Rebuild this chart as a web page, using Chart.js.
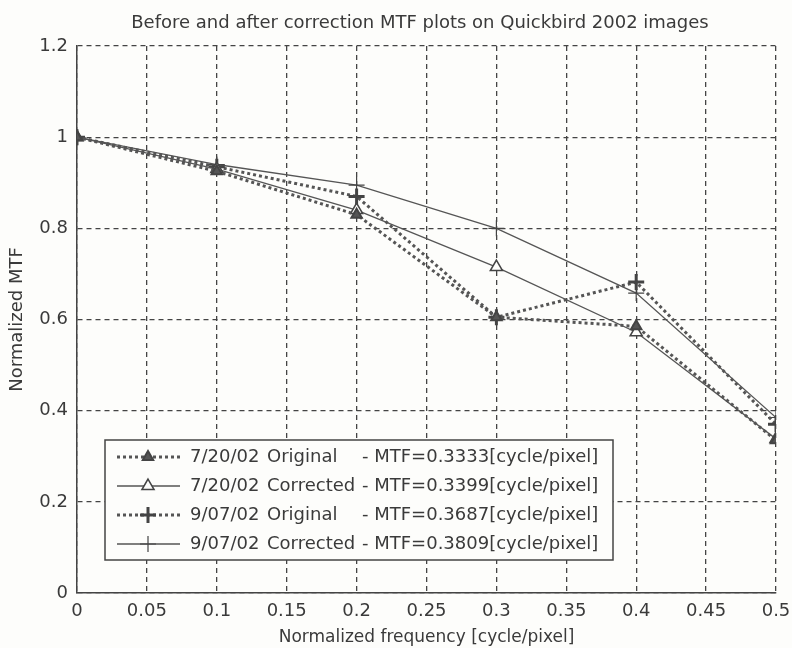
<!DOCTYPE html>
<html>
<head>
<meta charset="utf-8">
<script src="https://cdn.jsdelivr.net/npm/chart.js@4.4.1/dist/chart.umd.min.js"></script>
<style>
  html, body { margin: 0; padding: 0; background: #fdfdfb; }
  #box { width: 792px; height: 648px; }
</style>
</head>
<body>
<div id="box"><canvas id="mtfChart" width="792" height="648"></canvas></div>
<script>
// data
const freq = [0, 0.1, 0.2, 0.3, 0.4, 0.5];
const orig0720 = [1, 0.925, 0.83, 0.605, 0.585, 0.335];
const corr0720 = [1, 0.93, 0.84, 0.715, 0.572, 0.338];
const orig0907 = [1, 0.935, 0.87, 0.605, 0.682, 0.37];
const corr0907 = [1, 0.94, 0.895, 0.80, 0.658, 0.385];

const dates = ['7/20/02', '7/20/02', '9/07/02', '9/07/02'];
const kinds = ['Original', 'Corrected', 'Original', 'Corrected'];
const mtfValues = ['0.3333', '0.3399', '0.3687', '0.3809'];

const xTicks = [0, 0.05, 0.1, 0.15, 0.2, 0.25, 0.3, 0.35, 0.4, 0.45, 0.5];
const yTicks = [0, 0.2, 0.4, 0.6, 0.8, 1, 1.2];

const titleText = 'Before and after correction MTF plots on Quickbird 2002 images';
const ink = '#3a3a3a';
const lineInk = '#555';
const fontFam = '"DejaVu Sans", Verdana, sans-serif';

function pts(arr) {
  return freq.map(function (f, i) { return { x: f, y: arr[i] }; });
}

const dotted = { borderDash: [3, 3], borderWidth: 3 };
const solid = { borderDash: [], borderWidth: 1.3 };

const datasets = [
  Object.assign({ data: pts(orig0720), pointStyle: 'triangle', pointRadius: 6,
    pointBackgroundColor: '#555', pointBorderWidth: 2 }, dotted),
  Object.assign({ data: pts(corr0720), pointStyle: 'triangle', pointRadius: 7,
    pointBackgroundColor: '#fdfdfb', pointBorderWidth: 1.5 }, solid),
  Object.assign({ data: pts(orig0907), pointStyle: 'cross', pointRadius: 8,
    pointBackgroundColor: '#555', pointBorderWidth: 3 }, dotted),
  Object.assign({ data: pts(corr0907), pointStyle: 'cross', pointRadius: 8,
    pointBackgroundColor: '#555', pointBorderWidth: 1.2 }, solid)
];
datasets.forEach(function (d, i) {
  d.label = dates[i] + ' ' + kinds[i] + ' - MTF=' + mtfValues[i] + '[cycle/pixel]';
  d.borderColor = lineInk;
  d.pointBorderColor = '#444';
  d.fill = false;
  d.tension = 0;
});

// title over the plot box + legend box inside the plot
const extras = {
  id: 'extras',
  afterDraw: function (chart) {
    const ctx = chart.ctx;
    ctx.save();
    ctx.fillStyle = ink;
    ctx.font = '18px ' + fontFam;
    ctx.textAlign = 'center';
    ctx.textBaseline = 'alphabetic';
    ctx.fillText(titleText, 420, 28);

    // legend
    const lx = 105, ly = 440, lw = 508, lh = 120;
    ctx.fillStyle = '#fdfdfb';
    ctx.fillRect(lx, ly, lw, lh);
    ctx.strokeStyle = '#444';
    ctx.lineWidth = 1.5;
    ctx.setLineDash([]);
    ctx.strokeRect(lx, ly, lw, lh);
    ctx.font = '18px ' + fontFam;
    ctx.textAlign = 'left';
    ctx.textBaseline = 'middle';
    chart.data.datasets.forEach(function (d, i) {
      const y = ly + 17 + i * 29;
      ctx.save();
      ctx.strokeStyle = d.borderColor;
      ctx.lineWidth = d.borderWidth;
      ctx.setLineDash(d.borderDash);
      ctx.beginPath();
      ctx.moveTo(lx + 12, y);
      ctx.lineTo(lx + 75, y);
      ctx.stroke();
      ctx.setLineDash([]);
      ctx.fillStyle = d.pointBackgroundColor;
      ctx.strokeStyle = d.pointBorderColor;
      ctx.lineWidth = d.pointBorderWidth;
      Chart.helpers.drawPoint(ctx, { pointStyle: d.pointStyle, rotation: 0,
        radius: d.pointRadius, borderWidth: d.pointBorderWidth }, lx + 43, y);
      ctx.restore();
      ctx.fillStyle = ink;
      ctx.fillText(dates[i], lx + 85, y);
      ctx.fillText(kinds[i], lx + 162, y);
      ctx.fillText('- MTF=' + mtfValues[i] + '[cycle/pixel]', lx + 257, y);
    });
    ctx.restore();
  }
};

const ctx = document.getElementById('mtfChart');

new Chart(ctx, {
  type: 'line',
  data: { datasets: datasets },
  options: {
    responsive: false,
    animation: false,
    layout: { padding: { top: 46, right: 16, left: 0, bottom: 0 } },
    plugins: {
      legend: { display: false },
      title: { display: false },
      tooltip: { enabled: false }
    },
    scales: {
      x: {
        type: 'linear',
        min: 0, max: 0.5,
        afterBuildTicks: function (s) { s.ticks = xTicks.map(function (v) { return { value: v }; }); },
        afterFit: function (s) { s.height = 55; s.paddingLeft = 0; s.paddingRight = 0; },
        grid: { color: '#444', lineWidth: 1.3, drawTicks: false },
        border: { display: true, color: '#444', width: 1.5, dash: [5, 4] },
        ticks: { color: ink, padding: 8, maxRotation: 0, font: { family: fontFam, size: 18 },
          callback: function (v) { return String(v); } },
        title: { display: true, text: 'Normalized frequency [cycle/pixel]', color: ink,
          font: { family: fontFam, size: 17 }, padding: { top: 1, bottom: 0 } }
      },
      y: {
        min: 0, max: 1.2,
        afterBuildTicks: function (s) { s.ticks = yTicks.map(function (v) { return { value: v }; }); },
        afterFit: function (s) { s.width = 77; s.paddingTop = 0; s.paddingBottom = 0; },
        grid: { color: '#444', lineWidth: 1.3, drawTicks: false },
        border: { display: true, color: '#444', width: 1.5, dash: [5, 4] },
        ticks: { color: ink, padding: 9, font: { family: fontFam, size: 18 },
          callback: function (v) { return String(v); } },
        title: { display: true, text: 'Normalized MTF', color: ink,
          font: { family: fontFam, size: 18 }, padding: { top: 7, bottom: 0 } }
      }
    }
  },
  plugins: [extras]
});
</script>
</body>
</html>
